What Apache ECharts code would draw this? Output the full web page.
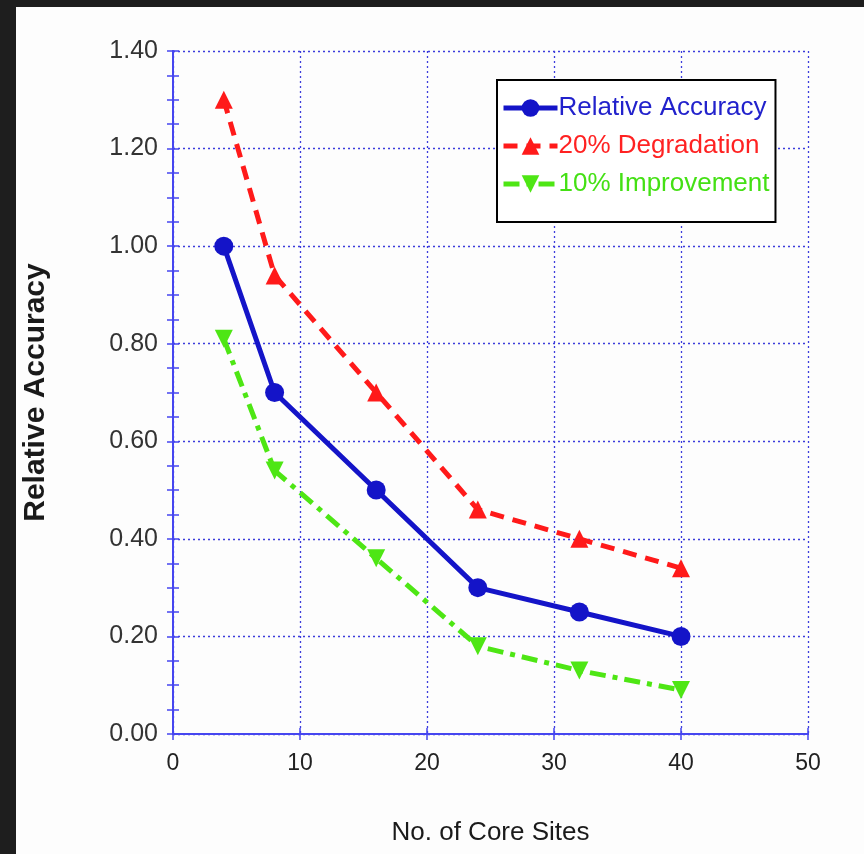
<!DOCTYPE html>
<html>
<head>
<meta charset="utf-8">
<script src="https://cdn.jsdelivr.net/npm/echarts@6/dist/echarts.min.js"></script>
<style>
html,body{margin:0;padding:0;background:#1e1e1e;}
#bg{position:absolute;left:16px;top:7px;right:0;bottom:0;background:#fdfdfd;}
#chart{position:absolute;left:0;top:0;width:864px;height:854px;}
</style>
</head>
<body>
<div id="bg"></div>
<div id="chart"></div>
<script>
const coreSites = [4, 8, 16, 24, 32, 40];
const relativeAccuracy = [1.00, 0.70, 0.50, 0.30, 0.25, 0.20];
const degradation20 = [1.30, 0.94, 0.70, 0.46, 0.40, 0.34];
const improvement10 = [0.81, 0.54, 0.36, 0.18, 0.13, 0.09];
const seriesNames = ['Relative Accuracy', '20% Degradation', '10% Improvement'];

const pairs = (xs, ys) => xs.map((x, i) => [x, ys[i]]);
const font = '"Liberation Sans", Arial, sans-serif';
const axisBlue = '#4646f0';
const gridBlue = '#3c3cdc';

const chart = echarts.init(document.getElementById('chart'), null, {renderer: 'canvas'});
chart.setOption({
  backgroundColor: 'transparent',
  animation: false,
  grid: {left: 173, right: 56, top: 51, bottom: 120},
  legend: {
    orient: 'vertical',
    left: 497, top: 80,
    padding: [15, 6, 25, 4],
    itemGap: 12,
    itemWidth: 54, itemHeight: 22,
    backgroundColor: '#ffffff',
    borderColor: '#000000', borderWidth: 2,
    lineStyle: {width: 5},
    textStyle: {fontFamily: font, fontSize: 26, padding: [0, 0, 0, -4]},
    data: [
      {name: seriesNames[0], textStyle: {color: '#2222cc'}},
      {name: seriesNames[1], textStyle: {color: '#ff2222'}},
      {name: seriesNames[2], textStyle: {color: '#44e014'}}
    ]
  },
  xAxis: [{
    type: 'value', min: 0, max: 50, interval: 10,
    name: 'No. of Core Sites', nameLocation: 'middle', nameGap: 86,
    nameTextStyle: {fontFamily: font, fontSize: 26, color: '#1a1a1a'},
    axisLine: {lineStyle: {color: axisBlue, width: 2}},
    axisTick: {show: true, inside: true, length: 6, lineStyle: {color: axisBlue, width: 1.5}},
    axisLabel: {fontFamily: font, fontSize: 23, color: '#222', margin: 18},
    splitLine: {show: true, lineStyle: {color: gridBlue, type: [2, 3], width: 1.3}}
  }, {
    type: 'value', position: 'top', min: 0, max: 50, interval: 10,
    axisLine: {show: true, lineStyle: {color: axisBlue, width: 2}},
    axisTick: {show: true, inside: true, length: 6, lineStyle: {color: axisBlue, width: 1.5}},
    axisLabel: {show: false}, splitLine: {show: false}
  }],
  yAxis: [{
    type: 'value', min: 0, max: 1.4, interval: 0.2,
    name: 'Relative Accuracy', nameLocation: 'middle', nameGap: 122,
    nameTextStyle: {fontFamily: font, fontSize: 30, fontWeight: 'bold', color: '#1a1a1a'},
    axisLine: {show: true, lineStyle: {color: axisBlue, width: 2}},
    axisTick: {show: true, inside: true, length: 6, lineStyle: {color: axisBlue, width: 1.5}},
    minorTick: {show: true, splitNumber: 4, length: 6, lineStyle: {color: axisBlue, width: 1.5}},
    axisLabel: {fontFamily: font, fontSize: 25, color: '#333', margin: 15, formatter: v => v.toFixed(2)},
    splitLine: {show: true, lineStyle: {color: gridBlue, type: [2, 3], width: 1.3}}
  }, {
    type: 'value', position: 'right', min: 0, max: 1.4, interval: 0.2,
    axisLine: {show: true, lineStyle: {color: axisBlue, width: 2}},
    axisTick: {show: true, inside: true, length: 6, lineStyle: {color: axisBlue, width: 1.5}},
    minorTick: {show: true, splitNumber: 4, length: 6, lineStyle: {color: axisBlue, width: 1.5}},
    axisLabel: {show: false}, splitLine: {show: false}
  }],
  series: [{
    name: seriesNames[0], type: 'line', data: pairs(coreSites, relativeAccuracy),
    symbol: 'circle', symbolSize: 19,
    itemStyle: {color: '#1414c8'},
    lineStyle: {color: '#1414c8', width: 5}, z: 5
  }, {
    name: seriesNames[1], type: 'line', data: pairs(coreSites, degradation20),
    symbol: 'triangle', symbolSize: 18,
    itemStyle: {color: '#ff1a1a'},
    lineStyle: {color: '#ff1a1a', width: 5, type: [14, 9]}, z: 4
  }, {
    name: seriesNames[2], type: 'line', data: pairs(coreSites, improvement10),
    symbol: 'triangle', symbolRotate: 180, symbolSize: 18,
    itemStyle: {color: '#4ee614'},
    lineStyle: {color: '#4ee614', width: 5, type: [16, 7, 5, 7]}, z: 3
  }]
});
</script>
</body>
</html>
